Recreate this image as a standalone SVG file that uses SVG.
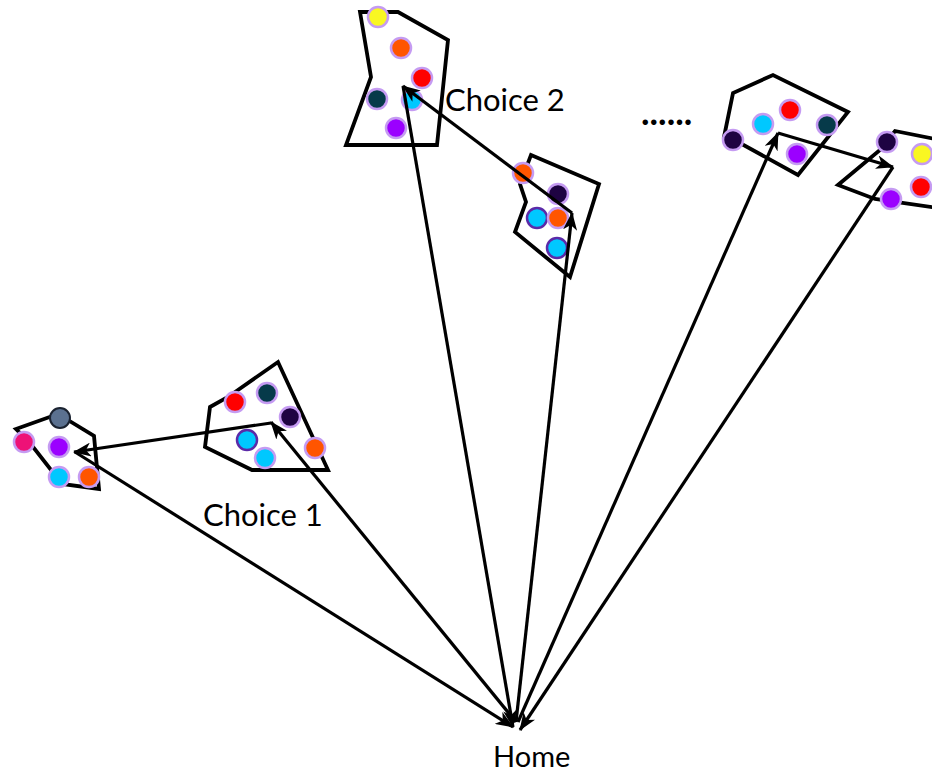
<svg xmlns="http://www.w3.org/2000/svg" width="932" height="776" viewBox="0 0 932 776">
  <style>
    .zone { fill: none; stroke: #000; stroke-width: 3.8; stroke-linejoin: miter; }
    .dot { stroke: #c59bf2; stroke-width: 2.5; }
    .ring { stroke: #5b2aa8; stroke-width: 2.5; }
    .edge { fill: none; stroke: #000; stroke-width: 3.2; marker-end: url(#head); }
    .label { font-family: "Gill Sans", Lato, "Liberation Sans", sans-serif; font-size: 31px; fill: #000; }
    .home { font-size: 29px; }
    .more { font-size: 36px; font-weight: bold; }
    .yellow { fill: #f9f722; }
    .orange { fill: #ff5500; }
    .red { fill: #ff0000; }
    .teal { fill: #063a4a; }
    .cyan { fill: #00c8ff; }
    .violet { fill: #9b00ff; }
    .night { fill: #1e0342; }
    .pink { fill: #ee1277; }
  </style>
  <defs>
    <marker id="head" viewBox="0 0 18 14" refX="17" refY="7" markerWidth="18" markerHeight="14" markerUnits="userSpaceOnUse" orient="auto">
      <path d="M0,0 L18,7 L0,14 L5,7 z" fill="#000"/>
    </marker>
  </defs>
  <rect width="932" height="776" fill="#fff"/>

  <!-- far-left zone -->
  <g id="zone-far-left">
    <polygon class="zone" points="16,429 58,414 94,436 99,489 62,484 30,443"/>
    <circle cx="60" cy="418" r="10" fill="#5b7190" stroke="#1a2230" stroke-width="2"/>
    <circle class="dot pink" cx="24" cy="442" r="10"/>
    <circle class="dot violet" cx="59" cy="447" r="10"/>
    <circle class="dot cyan" cx="59" cy="477" r="10"/>
    <circle class="dot orange" cx="89" cy="477" r="10"/>
  </g>

  <!-- left zone (first stop of choice 1) -->
  <g id="zone-left">
    <polygon class="zone" points="210,407 228,397 278,362 328,470 252,470 205,447"/>
    <circle class="dot red" cx="235" cy="402" r="10"/>
    <circle class="dot teal" cx="267" cy="393" r="10"/>
    <circle class="dot night" cx="290" cy="417" r="10"/>
    <circle class="ring cyan" cx="247" cy="440" r="10"/>
    <circle class="dot cyan" cx="265" cy="458" r="10"/>
    <circle class="dot orange" cx="315" cy="448" r="10"/>
  </g>

  <!-- top zone (second stop of choice 2) -->
  <g id="zone-top">
    <polygon class="zone" points="360,12 398,12 448,40 437,145 346,145 371,77"/>
    <circle class="dot yellow" cx="378" cy="17" r="10"/>
    <circle class="dot orange" cx="401" cy="48" r="10"/>
    <circle class="dot red" cx="422" cy="78" r="10"/>
    <circle class="dot teal" cx="377" cy="99" r="10"/>
    <circle class="dot cyan" cx="412" cy="100" r="10"/>
    <circle class="dot violet" cx="396" cy="128" r="10"/>
  </g>

  <!-- middle zone (first stop of choice 2) -->
  <g id="zone-middle">
    <polygon class="zone" points="531,155 599,184 570,277 515,232 526,202 520,184"/>
    <circle class="dot orange" cx="523" cy="173" r="10"/>
    <circle class="dot night" cx="558" cy="194" r="10"/>
    <circle class="ring cyan" cx="537" cy="218" r="10"/>
    <circle class="dot orange" cx="558" cy="218" r="10"/>
    <circle class="ring cyan" cx="557" cy="248" r="10"/>
  </g>

  <!-- right zone -->
  <g id="zone-right">
    <polygon class="zone" points="724,137 733,93 773,75 848,112 798,175 740,143"/>
    <circle class="dot night" cx="733" cy="140" r="10"/>
    <circle class="dot cyan" cx="763" cy="124" r="10"/>
    <circle class="dot red" cx="790" cy="110" r="10"/>
    <circle class="dot teal" cx="827" cy="125" r="10"/>
    <circle class="dot violet" cx="797" cy="154" r="10"/>
  </g>

  <!-- far-right zone, cut by the frame -->
  <g id="zone-far-right">
    <polygon class="zone" points="945,141 895,131 880,150 838,185 875,199 945,209"/>
    <circle class="dot night" cx="887" cy="142" r="10"/>
    <circle class="dot yellow" cx="922" cy="154" r="10"/>
    <circle class="dot red" cx="921" cy="187" r="10"/>
    <circle class="dot violet" cx="891" cy="199" r="10"/>
  </g>

  <!-- trip legs -->
  <g id="connectors">
    <!-- choice 1 -->
    <line class="edge" x1="516" y1="722" x2="271" y2="422"/>
    <line class="edge" x1="271" y1="423" x2="74" y2="452"/>
    <line class="edge" x1="75" y1="452" x2="513" y2="727"/>
    <!-- choice 2 -->
    <line class="edge" x1="516" y1="722" x2="572" y2="213"/>
    <line class="edge" x1="572" y1="213" x2="403" y2="86"/>
    <line class="edge" x1="403" y1="86" x2="513" y2="727"/>
    <!-- further choices -->
    <line class="edge" x1="518" y1="722" x2="778" y2="133"/>
    <line class="edge" x1="778" y1="133" x2="893" y2="167"/>
    <line class="edge" x1="893" y1="167" x2="520" y2="730"/>
  </g>

  <g id="labels">
    <text class="label" x="445" y="111">Choice 2</text>
    <text class="label" x="203" y="526">Choice 1</text>
    <text class="label home" x="493" y="767">Home</text>
    <text class="label more" x="641" y="125">......</text>
  </g>
</svg>
